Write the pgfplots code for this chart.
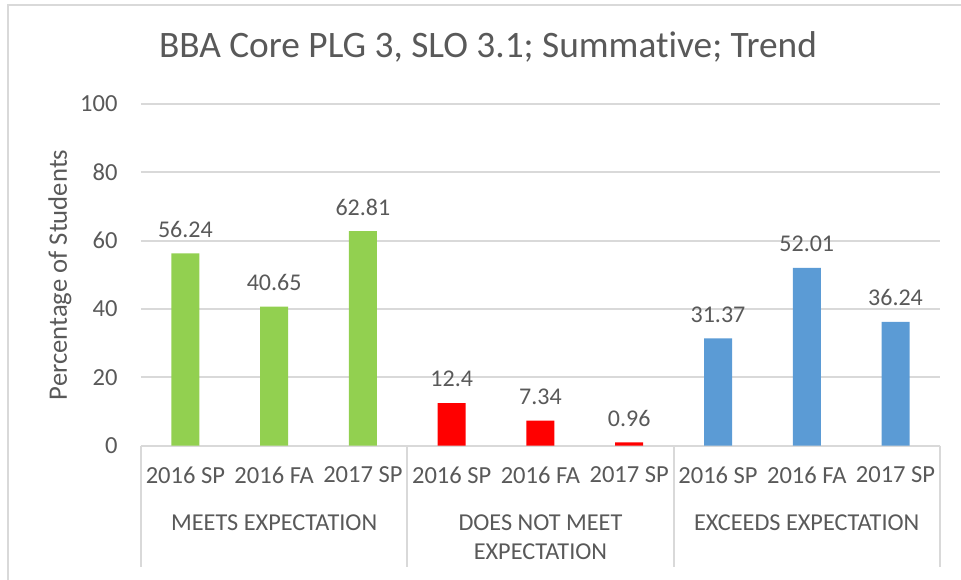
\documentclass[border=0pt]{standalone}
\usepackage{pgfplots}
\pgfplotsset{compat=1.18}
\usepackage{fontspec}
\setmainfont{Carlito}[Ligatures=NoCommon]
\definecolor{txt}{HTML}{595959}
\definecolor{grd}{HTML}{D9D9D9}
\definecolor{cgreen}{HTML}{92D050}
\definecolor{cred}{HTML}{FF0000}
\definecolor{cblue}{HTML}{5B9BD5}
\begin{document}
\begin{tikzpicture}[x=1pt,y=1pt]
\useasboundingbox (-52.875,-50.1) rectangle (307.5,167.1);
\draw[grd, line width=0.75pt] (-49.9,-60) -- (-49.9,165.2) -- (320,165.2);
\node[text=txt, font=\fontsize{14}{17}\selectfont] at (130.1,149.5) {BBA Core PLG 3, SLO 3.1; Summative; Trend};
\node[text=txt, rotate=90, font=\fontsize{10}{12}\selectfont] at (-30.4,64) {Percentage of Students};
\begin{axis}[
  at={(0,0)}, anchor=south west,
  scale only axis, width=299.6pt, height=128.1pt,
  xmin=-0.5, xmax=8.5, ymin=0, ymax=100,
  ytick={0,20,...,100},
  xtick={0,...,8},
  xticklabels={2016 SP,2016 FA,2017 SP,2016 SP,2016 FA,2017 SP,2016 SP,2016 FA,2017 SP},
  ymajorgrids, grid style={grd, line width=0.75pt},
  axis line style={draw=none},
  major tick length=0pt,
  tick label style={font=\fontsize{9.2}{11}\selectfont, text=txt},
  /pgf/number format/assume math mode=true,
  yticklabel style={anchor=east, inner sep=0pt, xshift=-8.6pt},
  xticklabel style={anchor=center, inner sep=0pt, yshift=-11pt},
  ybar, bar width=10.5pt, bar shift=0pt,
  nodes near coords, point meta=explicit symbolic,
  nodes near coords style={font=\fontsize{9}{11}\selectfont, text=txt, anchor=center, yshift=9pt},
  clip=false,
]
\addplot[fill=cgreen, draw=none] coordinates {(0,56.24)[56.24] (1,40.65)[40.65] (2,62.81)[62.81]};
\addplot[fill=cred, draw=none] coordinates {(3,12.4)[12.4] (4,7.34)[7.34] (5,0.96)[0.96]};
\addplot[fill=cblue, draw=none] coordinates {(6,31.37)[31.37] (7,52.01)[52.01] (8,36.24)[36.24]};
\draw[grd, line width=0.75pt] (axis cs:-0.5,0) -- ([yshift=-45.5pt]axis cs:-0.5,0);
\draw[grd, line width=0.75pt] (axis cs:2.5,0) -- ([yshift=-45.5pt]axis cs:2.5,0);
\draw[grd, line width=0.75pt] (axis cs:5.5,0) -- ([yshift=-45.5pt]axis cs:5.5,0);
\draw[grd, line width=0.75pt] (axis cs:8.5,0) -- ([yshift=-45.5pt]axis cs:8.5,0);
\node[text=txt, font=\fontsize{9.1}{11}\selectfont] at (axis cs:1,0) [yshift=-29pt] {MEETS EXPECTATION};
\node[text=txt, font=\fontsize{9.1}{10.9}\selectfont, align=center] at (axis cs:4,0) [yshift=-34.5pt] {DOES NOT MEET\\EXPECTATION};
\node[text=txt, font=\fontsize{9.1}{11}\selectfont] at (axis cs:7,0) [yshift=-29pt] {EXCEEDS EXPECTATION};
\end{axis}
\end{tikzpicture}
\end{document}
